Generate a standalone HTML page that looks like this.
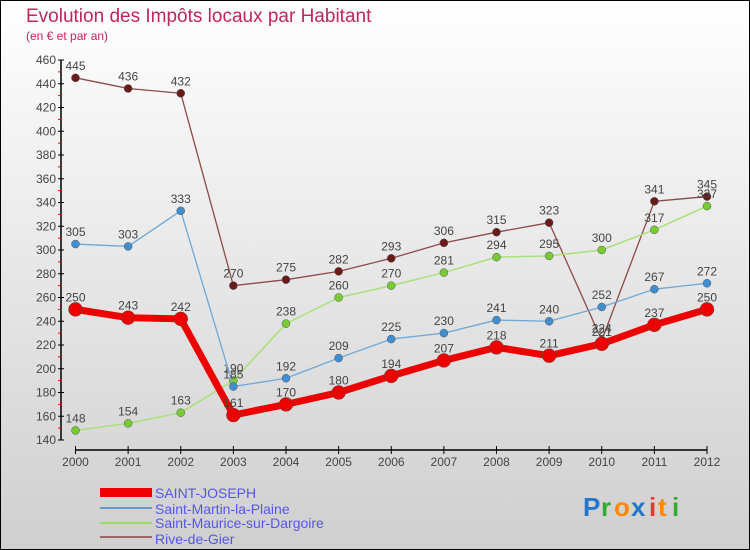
<!DOCTYPE html>
<html><head><meta charset="utf-8"><style>
body{margin:0}
#wrap{width:750px;height:550px;position:relative;overflow:hidden;font-family:"Liberation Sans",sans-serif}
svg text{font-family:"Liberation Sans",sans-serif}
</style></head><body>
<div id="wrap">
<svg id="c" width="750" height="550" xmlns="http://www.w3.org/2000/svg">
<defs><linearGradient id="bg" x1="0" y1="0" x2="0" y2="1"><stop offset="0" stop-color="#ffffff"/><stop offset="1" stop-color="#cfcfcf"/></linearGradient></defs>
<rect x="0.5" y="0.5" width="749" height="549" fill="url(#bg)" stroke="#000"/>
<text x="26" y="22" font-size="19" fill="#c0265a">Evolution des Impôts locaux par Habitant</text>
<text x="26" y="40" font-size="12" fill="#c0265a">(en € et par an)</text>
<g id="axes"></g><g id="series"></g>
<g>
<rect x="100" y="488" width="52" height="9" fill="#ee0000"/>
<text x="155" y="498" font-size="14" fill="#5555ee">SAINT-JOSEPH</text>
<rect x="100" y="507" width="52" height="2" fill="#6699cc"/>
<text x="155" y="514" font-size="14" fill="#5555ee">Saint-Martin-la-Plaine</text>
<rect x="100" y="522" width="52" height="2" fill="#99dd66"/>
<text x="155" y="528" font-size="14" fill="#5555ee">Saint-Maurice-sur-Dargoire</text>
<rect x="100" y="536" width="52" height="2" fill="#996666"/>
<text x="155" y="544" font-size="14" fill="#5555ee">Rive-de-Gier</text>
</g>
<g font-size="26" font-weight="bold">
<text x="583" y="516" fill="#2277cc">P</text><text x="601" y="516" fill="#33aa33">r</text><text x="614" y="516" fill="#ff8800">o</text><text x="631" y="516" fill="#2277cc">x</text><text x="649" y="516" fill="#ee3333">i</text><text x="658" y="516" fill="#ff8800">t</text><text x="672" y="516" fill="#33aa33">i</text>
</g>
</svg>
</div>
<script>
const years=[2000,2001,2002,2003,2004,2005,2006,2007,2008,2009,2010,2011,2012];
const saintJoseph=[250,243,242,161,170,180,194,207,218,211,221,237,250];
const saintMartin=[305,303,333,185,192,209,225,230,241,240,252,267,272];
const saintMaurice=[148,154,163,190,238,260,270,281,294,295,300,317,337];
const riveDeGier=[445,436,432,270,275,282,293,306,315,323,224,341,345];
const yTicks=[140,160,180,200,220,240,260,280,300,320,340,360,380,400,420,440,460];
const NS="http://www.w3.org/2000/svg";
const X=i=>75.5+i*(707-75.5)/12;
const Y=v=>440-(v-140)*380/320;
function mk(t,a,p){const e=document.createElementNS(NS,t);for(const k in a)e.setAttribute(k,a[k]);p.appendChild(e);return e;}
const ax=document.getElementById('axes');
let yl=mk('line',{x1:61,y1:Y(140),x2:61,y2:Y(460),stroke:'#000','stroke-width':1.5},ax);


yTicks.forEach(v=>{
 mk('line',{x1:58,y1:Y(v),x2:64,y2:Y(v),stroke:'#000'},ax);
 if(v<460)mk('line',{x1:58,y1:Y(v+10),x2:61,y2:Y(v+10),stroke:'#e00'},ax);
 const t=mk('text',{x:56,y:Y(v)+4,'text-anchor':'end','font-size':12,fill:'#444'},ax);t.textContent=v;
 
 
});
let xl=mk('line',{x1:X(0),y1:450,x2:X(12),y2:450,stroke:'#000','stroke-width':1.5},ax);


years.forEach((y,i)=>{
 mk('line',{x1:X(i),y1:446,x2:X(i),y2:454,stroke:'#000'},ax);
 const t=mk('text',{x:X(i),y:466,'text-anchor':'middle','font-size':12,fill:'#444'},ax);t.textContent=y;
 
 
});
const sg=document.getElementById('series');
function series(d,name,col,dot,w,r){
 const g=mk('g',{},sg);
 
 
 mk('polyline',{points:d.map((v,i)=>X(i)+','+Y(v)).join(' '),fill:'none',stroke:col,'stroke-width':w,'stroke-linejoin':'round'},g);
 d.forEach((v,i)=>{
  const c=mk('circle',{cx:X(i),cy:Y(v),r:r,fill:dot,stroke:'#555','stroke-width':0.5},g);
  
  
  const t=mk('text',{x:X(i),y:Y(v)-8,'text-anchor':'middle','font-size':12,fill:'#444'},g);t.textContent=v;
  
  
 });
}
series(riveDeGier,'series-rive-de-gier','#8b4a4a','#6b1a1a',1.3,4);
series(saintMaurice,'series-saint-maurice','#a8e07a','#77cc33',1.5,4);
series(saintMartin,'series-saint-martin','#6fa7d6','#3f8fd0',1.3,4);
series(saintJoseph,'series-saint-joseph','#ee0000','#ee0000',7,7);
</script>
</body></html>
